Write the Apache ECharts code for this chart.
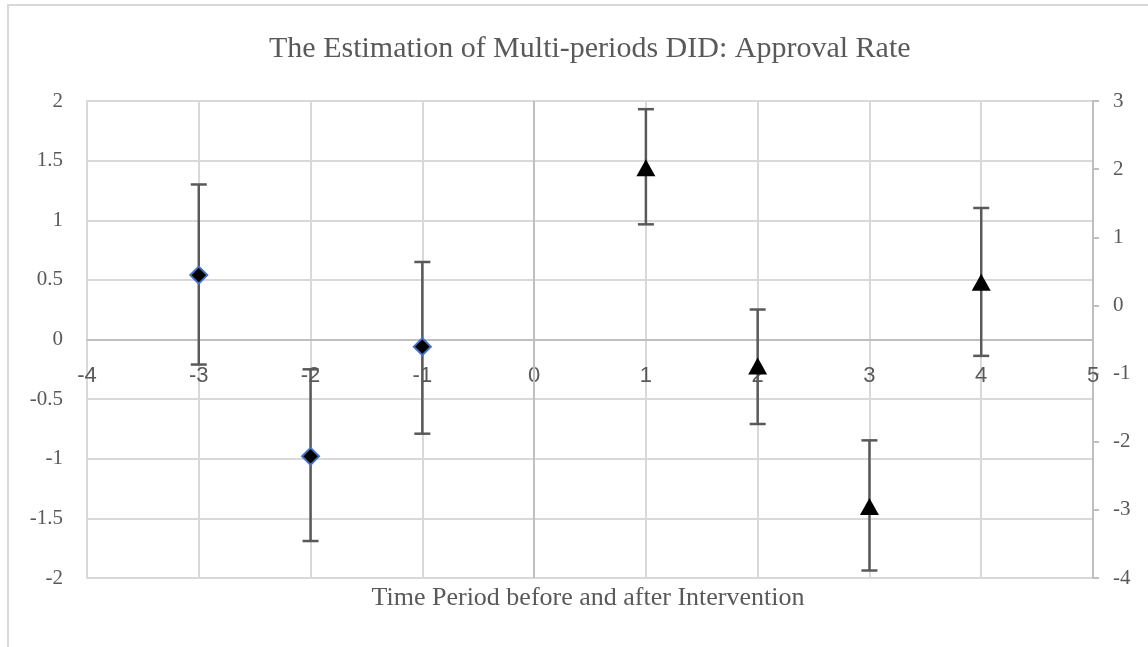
<!DOCTYPE html>
<html>
<head>
<meta charset="utf-8">
<title>The Estimation of Multi-periods DID: Approval Rate</title>
<script src="https://cdn.jsdelivr.net/npm/echarts@6/dist/echarts.min.js"></script>
<style>
  html, body { margin: 0; padding: 0; background: #ffffff; }
  #chart { width: 1148px; height: 647px; }
</style>
</head>
<body>
<div id="chart"></div>
<script>
// Pre-intervention periods (left axis)
const prePeriods = [-3, -2, -1];
const preCoef    = [0.54, -0.98, -0.06];
const preLower   = [-0.21, -1.69, -0.79];
const preUpper   = [1.30, -0.25, 0.65];

// Post-intervention periods (right axis)
const postPeriods = [1, 2, 3, 4];
const postCoef    = [2.02, -0.89, -2.95, 0.34];
const postLower   = [1.19, -1.74, -3.89, -0.74];
const postUpper   = [2.88, -0.06, -1.98, 1.43];

const titleText = 'The Estimation of Multi-periods DID: Approval Rate';
const xAxisTitle = 'Time Period before and after Intervention';

const TEXT = '#595959';
const GRID = '#d9d9d9';
const AXIS = '#bfbfbf';
const SERIF = '"Liberation Serif", "Times New Roman", serif';
const SANS = '"Liberation Sans", Arial, sans-serif';

// Plot area (pixels from the container edges)
const PLOT = { left: 87, right: 55, top: 101, bottom: 69 };
const LEFT_MIN = -2, LEFT_MAX = 2;
const plotHeight = 647 - PLOT.top - PLOT.bottom;
// The horizontal axis sits on the left axis' zero line
const xAxisOffset = -plotHeight * (0 - LEFT_MIN) / (LEFT_MAX - LEFT_MIN);

const prePoints  = prePeriods.map((x, i) => [x, preCoef[i]]);
const postPoints = postPeriods.map((x, i) => [x, postCoef[i]]);
const preBars    = prePeriods.map((x, i) => [x, preLower[i], preUpper[i]]);
const postBars   = postPeriods.map((x, i) => [x, postLower[i], postUpper[i]]);

// Vertical error bar with horizontal caps
function errorBar(params, api) {
  const x = api.value(0);
  const lo = api.coord([x, api.value(1)]);
  const hi = api.coord([x, api.value(2)]);
  const half = 8;
  const style = { stroke: '#595959', lineWidth: 2.5 };
  return {
    type: 'group',
    children: [
      { type: 'line', shape: { x1: lo[0], y1: lo[1], x2: hi[0], y2: hi[1] }, style },
      { type: 'line', shape: { x1: hi[0] - half, y1: hi[1], x2: hi[0] + half, y2: hi[1] }, style },
      { type: 'line', shape: { x1: lo[0] - half, y1: lo[1], x2: lo[0] + half, y2: lo[1] }, style }
    ]
  };
}

const chart = echarts.init(document.getElementById('chart'), null, { renderer: 'canvas' });

chart.setOption({
  animation: false,
  backgroundColor: '#ffffff',
  title: {
    text: titleText,
    left: 264,
    top: 29,
    textStyle: { fontFamily: SERIF, fontSize: 30, fontWeight: 'normal', color: TEXT }
  },
  graphic: [
    {
      type: 'rect',
      silent: true,
      shape: { x: 8, y: 5, width: 1200, height: 700 },
      style: { fill: 'none', stroke: GRID, lineWidth: 2 }
    },
    {
      type: 'text',
      silent: true,
      x: 588,
      y: 598,
      style: {
        text: xAxisTitle,
        align: 'center',
        verticalAlign: 'middle',
        font: '26px ' + SERIF,
        fill: TEXT
      }
    }
  ],
  grid: { left: PLOT.left, right: PLOT.right, top: PLOT.top, bottom: PLOT.bottom, containLabel: false },
  xAxis: {
    type: 'value',
    position: 'bottom',
    offset: xAxisOffset,
    min: -4,
    max: 5,
    interval: 1,
    axisLine: { show: true, onZero: false, lineStyle: { color: AXIS, width: 2 } },
    axisTick: { show: false },
    axisLabel: { margin: 25, fontFamily: SANS, fontSize: 22, color: TEXT },
    splitLine: { show: true, lineStyle: { color: GRID, width: 2 } }
  },
  yAxis: [
    {
      type: 'value',
      position: 'left',
      min: LEFT_MIN,
      max: LEFT_MAX,
      interval: 0.5,
      axisLine: { show: true, onZero: false, lineStyle: { color: GRID, width: 2 } },
      axisTick: { show: false },
      axisLabel: { margin: 24, fontFamily: SERIF, fontSize: 21, color: TEXT },
      splitLine: { show: true, lineStyle: { color: GRID, width: 2 } }
    },
    {
      type: 'value',
      position: 'right',
      min: -4,
      max: 3,
      interval: 1,
      axisLine: { show: true, onZero: false, lineStyle: { color: AXIS, width: 2 } },
      axisTick: { show: true, inside: false, length: 6, lineStyle: { color: AXIS, width: 2 } },
      axisLabel: { margin: 20, fontFamily: SERIF, fontSize: 21, color: TEXT },
      splitLine: { show: false }
    }
  ],
  series: [
    {
      type: 'custom',
      name: 'pre-bars',
      xAxisIndex: 0,
      yAxisIndex: 0,
      renderItem: errorBar,
      encode: { x: 0, y: [1, 2] },
      data: preBars,
      z: 3,
      silent: true,
      markLine: {
        silent: true,
        symbol: 'none',
        label: { show: false },
        lineStyle: { color: AXIS, width: 2, type: 'solid' },
        data: [{ xAxis: 0 }]
      }
    },
    {
      type: 'custom',
      name: 'post-bars',
      xAxisIndex: 0,
      yAxisIndex: 1,
      renderItem: errorBar,
      encode: { x: 0, y: [1, 2] },
      data: postBars,
      z: 3,
      silent: true
    },
    {
      type: 'scatter',
      name: 'pre',
      yAxisIndex: 0,
      symbol: 'diamond',
      symbolSize: 17,
      itemStyle: { color: '#000000', borderColor: '#4472C4', borderWidth: 2, opacity: 1 },
      data: prePoints,
      z: 5,
      silent: true
    },
    {
      type: 'scatter',
      name: 'post',
      yAxisIndex: 1,
      symbol: 'triangle',
      symbolSize: [19, 17],
      itemStyle: { color: '#000000', opacity: 1 },
      data: postPoints,
      z: 5,
      silent: true
    }
  ]
});
</script>
</body>
</html>
